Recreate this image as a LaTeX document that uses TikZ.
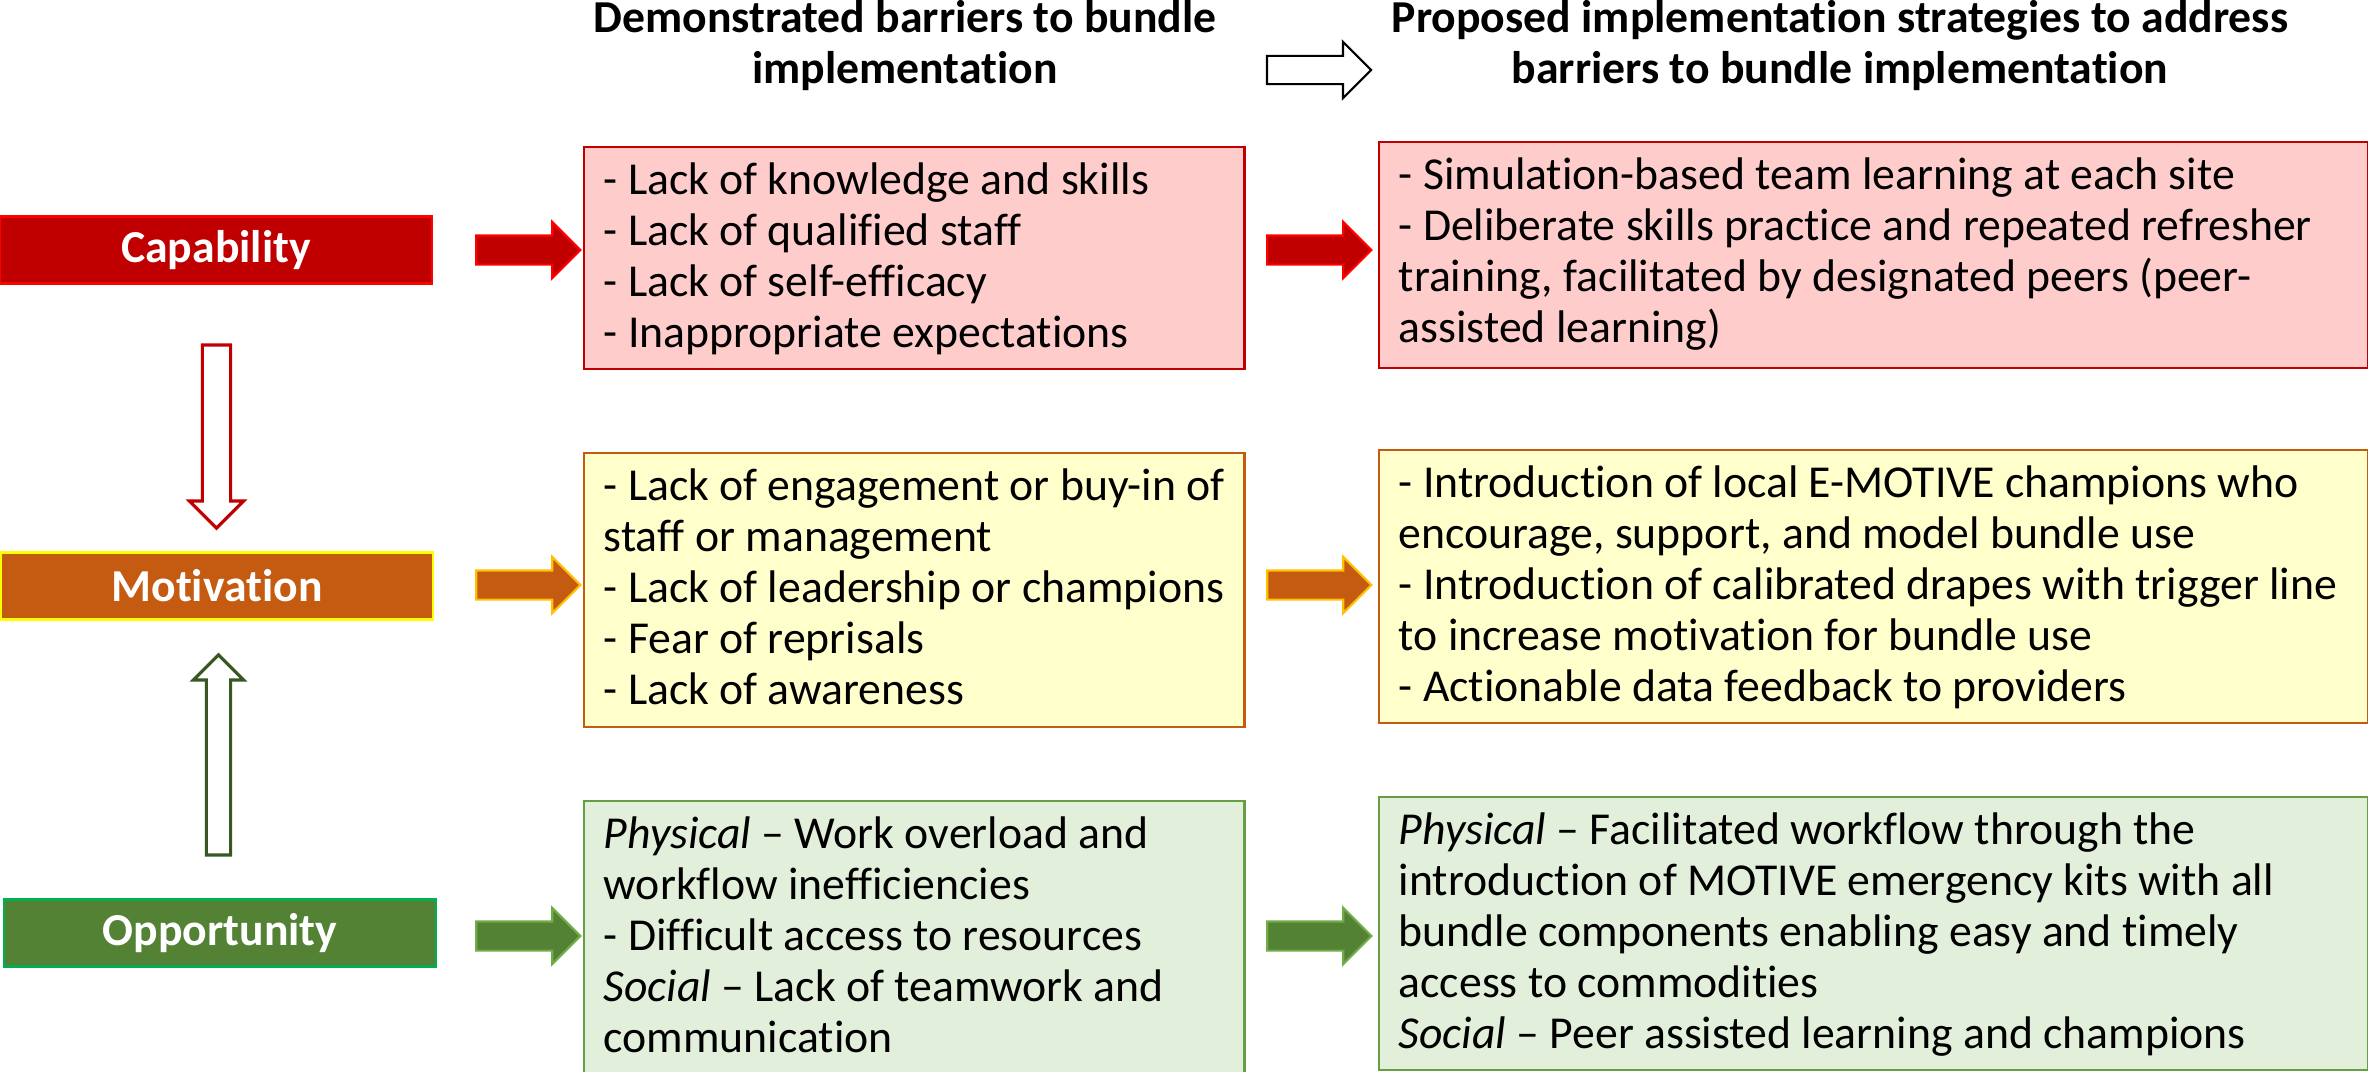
\documentclass[tikz,border=0pt]{standalone}
\usepackage{fontspec}
\setmainfont{Carlito}[Ligatures={TeX,NoCommon}]
\usetikzlibrary{shapes.arrows}

\definecolor{capred}{HTML}{C00000}
\definecolor{capedge}{HTML}{FF0000}
\definecolor{motorange}{HTML}{C55A11}
\definecolor{motedge}{HTML}{FFFF00}
\definecolor{motarrow}{HTML}{FFC000}
\definecolor{oppgreen}{HTML}{548235}
\definecolor{oppedge}{HTML}{00B050}
\definecolor{opparrow}{HTML}{70AD47}
\definecolor{upgreen}{HTML}{385723}
\definecolor{capbox}{HTML}{FFCCCC}
\definecolor{motbox}{HTML}{FFFFCC}
\definecolor{oppbox}{HTML}{E2EFDA}
\definecolor{oppboxedge}{HTML}{659E43}

\tikzset{
  lbl/.style={minimum width=4.31cm, minimum height=0.67cm, inner sep=0pt,
    line width=0.6pt, text=white,
    font=\bfseries\fontsize{13}{14.5}\selectfont},
  hd/.style={anchor=north, align=center, inner sep=0pt,
    font=\bfseries\fontsize{13}{14.5}\selectfont},
  blockarrow/.style={single arrow, minimum height=1.04cm, minimum width=0.54cm,
    single arrow head extend=0.135cm, inner sep=0pt, inner ysep=0.135cm,
    line width=0.6pt},
  bx/.style={anchor=north west, inner sep=0pt, line width=0.6pt},
  txt/.style={anchor=north west, align=left, inner xsep=0.2cm, inner ysep=0.12cm,
    font=\fontsize{13}{14.5}\selectfont}
}

\begin{document}
\begin{tikzpicture}[x=0.01cm, y=-0.01cm]
\useasboundingbox (0,0) rectangle (2368,1072);
\clip (0,0) rectangle (2368,1072);

\node[hd] (hbar) at (905,-4) {\strut Demonstrated barriers to bundle\\implementation};
\node[hd] (hstr) at (1840,-4) {\strut Proposed implementation strategies to address\\barriers to bundle implementation};
\node[blockarrow, fill=white, draw=black, inner ysep=0.13cm,
      single arrow head extend=0.14cm] (harrow) at (1312,70) {};

\node[lbl, fill=capred, draw=capedge] (cap) at (216,250) {Capability};
\node[lbl, fill=motorange, draw=motedge] (mot) at (217,586) {Motivation};
\node[lbl, fill=oppgreen, draw=oppedge] (opp) at (220,933) {Opportunity};

\node[blockarrow, rotate=-90, minimum height=1.83cm, minimum width=0.51cm,
      inner ysep=0.125cm, single arrow head extend=0.13cm,
      line width=0.9pt, draw=capred, fill=white] (capdown) at (216.5,429.5) {};
\node[blockarrow, rotate=90, minimum height=2.0cm, minimum width=0.47cm,
      inner ysep=0.105cm, single arrow head extend=0.13cm,
      line width=0.9pt, draw=upgreen, fill=white] (oppup) at (218.5,761) {};

\node[blockarrow, fill=capred, draw=capedge] (caparrow) at (521,250) {};
\node[blockarrow, fill=capred, draw=capedge] (caparrowb) at (1312,250) {};
\node[blockarrow, fill=motorange, draw=motarrow] (motarrow) at (521,585) {};
\node[blockarrow, fill=motorange, draw=motarrow] (motarrowb) at (1312,585) {};
\node[blockarrow, fill=oppgreen, draw=opparrow] (opparrow) at (521,936) {};
\node[blockarrow, fill=oppgreen, draw=opparrow] (opparrowb) at (1312,936) {};

\node[bx, draw=capred, fill=capbox, minimum width=6.6cm, minimum height=2.22cm] (bar1) at (583,146) {};
\node[txt] (bar1t) at (bar1.north west) {\strut- Lack of knowledge and skills\\
- Lack of qualified staff\\
- Lack of self-efficacy\\
- Inappropriate expectations};

\node[bx, draw=capred, fill=capbox, minimum width=9.88cm, minimum height=2.26cm] (str1) at (1378,141) {};
\node[txt] (str1t) at (str1.north west) {\strut- Simulation-based team learning at each site\\
- Deliberate skills practice and repeated refresher\\
training, facilitated by designated peers (peer-\\
assisted learning)};

\node[bx, draw=motorange, fill=motbox, minimum width=6.6cm, minimum height=2.74cm] (bar2) at (583,452) {};
\node[txt] (bar2t) at (bar2.north west) {\strut- Lack of engagement or buy-in of\\
staff or management\\
- Lack of leadership or champions\\
- Fear of reprisals\\
- Lack of awareness};

\node[bx, draw=motorange, fill=motbox, minimum width=9.88cm, minimum height=2.73cm] (str2) at (1378,449) {};
\node[txt] (str2t) at (str2.north west) {\strut- Introduction of local E-MOTIVE champions who\\
encourage, support, and model bundle use\\
- Introduction of calibrated drapes with trigger line\\
to increase motivation for bundle use\\
- Actionable data feedback to providers};

\node[bx, draw=oppboxedge, fill=oppbox, minimum width=6.6cm, minimum height=2.9cm] (bar3) at (583,800) {};
\node[txt] (bar3t) at (bar3.north west) {\strut\textit{Physical} -- Work overload and\\
workflow inefficiencies\\
- Difficult access to resources\\
\textit{Social} -- Lack of teamwork and\\
communication};

\node[bx, draw=oppboxedge, fill=oppbox, minimum width=9.88cm, minimum height=2.73cm] (str3) at (1378,796) {};
\node[txt] (str3t) at (str3.north west) {\strut\textit{Physical} -- Facilitated workflow through the\\
introduction of MOTIVE emergency kits with all\\
bundle components enabling easy and timely\\
access to commodities\\
\textit{Social} -- Peer assisted learning and champions};
\end{tikzpicture}
\end{document}
